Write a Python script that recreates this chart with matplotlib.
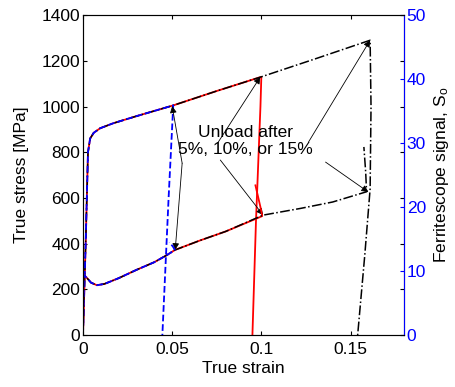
import matplotlib.pyplot as plt

plt.rcParams['font.family'] = ['Liberation Sans', 'DejaVu Sans']
plt.rcParams['mathtext.fontset'] = 'custom'
plt.rcParams['mathtext.rm'] = 'Liberation Sans'
plt.rcParams['mathtext.it'] = 'Liberation Sans'

# stress-strain, loading then unloading for 5 %, 10 %, 15 % tests
strain_5 = [0, 0.0015, 0.0028, 0.004, 0.006, 0.0096, 0.017, 0.03, 0.0506, 0.048, 0.0445]
stress_5 = [0, 400, 800, 860, 885, 905, 927, 958, 1005, 600, 0]

strain_10 = [0, 0.0015, 0.0028, 0.004, 0.006, 0.0096, 0.017, 0.03, 0.0506, 0.075, 0.1, 0.0995, 0.097, 0.095]
stress_10 = [0, 400, 800, 860, 885, 905, 927, 958, 1005, 1068, 1130, 1000, 500, 0]

strain_15 = [0, 0.0015, 0.0028, 0.004, 0.006, 0.0096, 0.017, 0.03, 0.0506, 0.075, 0.1, 0.13,
             0.161, 0.1615, 0.161, 0.158, 0.154]
stress_15 = [0, 400, 800, 860, 885, 905, 927, 958, 1005, 1068, 1130, 1208,
             1290, 1000, 640, 350, 0]

# ferritescope signal
fs_strain_5 = [0, 0.0005, 0.002, 0.0045, 0.0078, 0.012, 0.02, 0.03, 0.04, 0.047, 0.0515, 0.0505, 0.0485]
fs_5 = [0, 9.4, 9.0, 8.2, 7.8, 8.0, 8.9, 10.2, 11.4, 12.5, 13.3, 13.8, 14.5]

fs_strain_10 = [0, 0.0005, 0.002, 0.0045, 0.0078, 0.012, 0.02, 0.03, 0.04, 0.047, 0.0515, 0.0657,
                0.08, 0.098, 0.1005, 0.0995, 0.0967]
fs_10 = [0, 9.4, 9.0, 8.2, 7.8, 8.0, 8.9, 10.2, 11.4, 12.5, 13.3, 14.8,
         16.2, 18.3, 18.6, 20.0, 23.4]

fs_strain_15 = [0, 0.0005, 0.002, 0.0045, 0.0078, 0.012, 0.02, 0.03, 0.04, 0.047, 0.0515, 0.0657,
                0.08, 0.101, 0.122, 0.14, 0.159, 0.1585, 0.1575]
fs_15 = [0, 9.4, 9.0, 8.2, 7.8, 8.0, 8.9, 10.2, 11.4, 12.5, 13.3, 14.8,
         16.2, 18.75, 19.8, 20.8, 22.4, 25.5, 29.4]

fig = plt.figure(figsize=(4.56, 3.87), dpi=100)
ax = fig.add_axes([0.182, 0.134, 0.704, 0.827])
ax2 = ax.twinx()

ax.plot(strain_10, stress_10, color='red', lw=1.3)
ax.plot(strain_15, stress_15, color='black', lw=1.1, ls='-.')
ax.plot(strain_5, stress_5, color='blue', lw=1.3, ls='--')

ax2.plot(fs_strain_10, fs_10, color='red', lw=1.3)
ax2.plot(fs_strain_15, fs_15, color='black', lw=1.1, ls='-.')
ax2.plot(fs_strain_5, fs_5, color='blue', lw=1.3, ls='--')

ax.set_xlim(0, 0.18)
ax.set_ylim(0, 1400)
ax2.set_ylim(0, 50)
ax.set_xticks([0, 0.05, 0.1, 0.15])
ax.set_xticklabels(['0', '0.05', '0.1', '0.15'])
ax.set_yticks(range(0, 1401, 200))
ax2.set_yticks(range(0, 51, 10))

fs = 12.5
ax.tick_params(direction='in', top=True, right=True, labelsize=fs, length=3, pad=2)
ax.tick_params(axis='x', pad=5)
ax2.tick_params(direction='in', colors='blue', labelsize=fs, length=3, pad=2)
ax2.spines['right'].set_color('blue')
for s in ['left', 'top', 'bottom']:
    ax.spines[s].set_color('#555555')

ax.set_xlabel('True strain', fontsize=fs, labelpad=3)
ax.set_ylabel('True stress [MPa]', fontsize=fs, labelpad=9)
ax2.set_ylabel('Ferritescope signal, S$_o$', fontsize=fs, labelpad=4)

ax.text(0.091, 849, 'Unload after\n5%, 10%, or 15%', ha='center', va='center',
        fontsize=fs, linespacing=1.15, zorder=5)

arrows = [
    ((0.0556, 752), (0.050, 1002)),
    ((0.0556, 752), (0.0517, 372)),
    ((0.0758, 844), (0.0994, 1129)),
    ((0.077, 766), (0.101, 525)),
    ((0.1264, 844), (0.161, 1290)),
    ((0.136, 757), (0.160, 626)),
]
for start, end in arrows:
    ax.annotate('', xy=end, xytext=start,
                arrowprops=dict(arrowstyle='-|>', color='black', lw=0.6,
                                mutation_scale=10, shrinkA=0, shrinkB=0))

fig.savefig('out.png', dpi=100)
